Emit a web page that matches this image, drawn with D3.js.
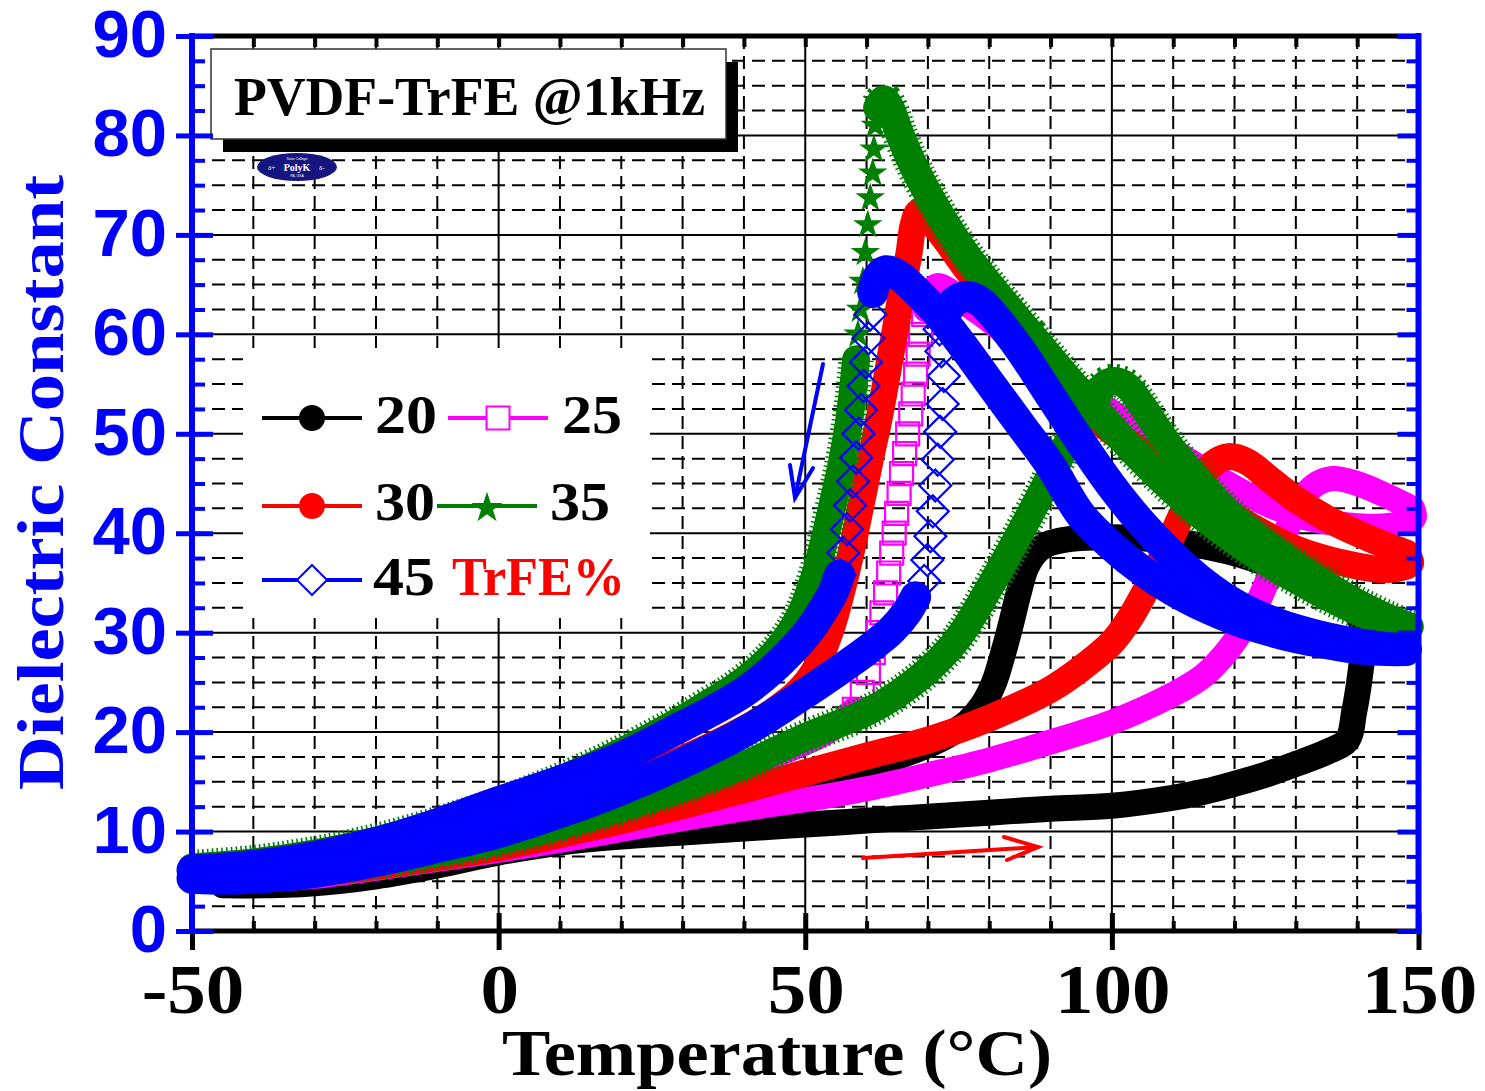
<!DOCTYPE html>
<html><head><meta charset="utf-8">
<script src="https://cdn.jsdelivr.net/npm/d3@7"></script>
<style>body{margin:0;background:#fff}svg{display:block}</style>
</head><body>
<svg id="chart" width="1485" height="1091"></svg>
<script>
// ---------------- DATA (temperature °C, dielectric constant) ----------------
const xTickValues = [-50, 0, 50, 100, 150];
const yTickValues = [0, 10, 20, 30, 40, 50, 60, 70, 80, 90];
const seriesNames = ["20", "25", "30", "35", "45"];

// 20 % TrFE (black, circles)
const trfe20Heat = [[-45,4.7],[-40,4.6],[-30,4.8],[-20,5.5],[-10,6.6],[0,7.9],[10,8.9],[20,9.5],[30,9.9],[40,10.3],[50,10.7],[60,11.1],[70,11.5],[80,11.9],[90,12.3],[100,12.6],[110,13.4],[115,14],[120,14.8],[125,15.7],[130,16.8],[135,18],[138.4,19.2],[139.5,22],[140.2,24.5],[140.7,26.8],[141.2,29]];
const trfe20Cool = [[141.2,29],[140.5,31.3],[138,33],[134,34.5],[130,35.8],[125,37],[120,38],[115,38.7],[110,39.2],[100,39.6],[93,39.4],[89.5,38.9],[87.5,38],[86,36.5],[84.8,34],[83.6,31],[82.3,28],[80.8,25],[79,22.8],[76.5,21],[73,19.6],[70,18.7],[65,17.5],[60,16.4],[50,14.5],[40,13],[30,11.7],[20,10.5],[10,9.3],[0,8.1],[-10,6.8],[-20,5.7],[-30,4.9],[-40,4.6],[-45,4.6]];

// 25 % TrFE (magenta, open squares)
const trfe25Heat = [[-50,5.3],[-45,5.1],[-40,5.1],[-30,5.5],[-20,6.3],[-10,7.2],[0,8.1],[10,9.1],[20,10.2],[30,11.3],[40,12.3],[50,13.2],[60,14.3],[70,15.7],[80,17.2],[90,19],[100,21],[110,23.8],[115,25.7],[119,28.3],[122,31],[124.5,34],[126.5,37],[128.5,40.3],[130.5,43],[133,44.8],[136,45.5],[140,45],[145,43.7],[149,42.5]];
const trfe25CoolHigh = [[149,42.5],[149.3,41.6],[147,41],[143,40.7],[139,40.8],[135,41.1],[130,41.8],[125,43],[120,44.6],[115,46.4],[110,48.3],[105,50.2],[100,52.2],[95,54.3],[90,56.5],[85,58.9],[80,61.4],[76,63.2],[73.5,64.4],[71.5,64.9],[70.3,64.1],[69.6,62.5]];
const trfe25CoolSteep = [[69.3,62],[68.8,60],[68.4,58],[68,56],[67.6,54],[67.2,52],[66.7,50],[66.2,48],[65.7,46],[65.3,44],[64.9,42],[64.5,40],[64.1,38],[63.6,36],[63.1,34],[62.5,32],[61.8,30],[61.1,28],[60.3,26],[59.3,24],[58,22.3]];
const trfe25CoolLow = [[58,22.3],[55,20.6],[52,19.5],[48,18.4],[40,16.5],[30,14.4],[20,12.4],[10,10.6],[0,9.1],[-10,7.9],[-20,6.9],[-30,6.1],[-40,5.6],[-50,5.3]];

// 30 % TrFE (red, circles)
const trfe30Heat = [[-50,5.6],[-40,5.4],[-30,5.8],[-20,6.5],[-10,7.4],[0,8.4],[10,9.7],[20,11.1],[30,12.6],[40,14.2],[50,15.9],[60,17.6],[70,19.2],[80,21.4],[90,24.3],[95,26.4],[100,29],[103,31.5],[106,34.8],[109,38.6],[111.5,42],[114,45],[116.5,47],[119,47.7],[122,47.2],[126,45.3],[130,43.4],[135,41.5],[140,40],[145,38.7],[148,38]];
const trfe30Cool = [[148,38],[148.7,37],[146,36.4],[143,36.4],[140,36.7],[135,37.4],[130,38.4],[125,39.9],[120,41.7],[115,43.8],[110,46],[105,48.2],[100,50.2],[96,52.2],[92,54.8],[88,57.8],[84,60.8],[80,63.8],[76,66.8],[72.5,69.8],[70,71.6],[68.5,72.3],[67.6,71],[67,68.5],[66.3,66],[65.5,63.5],[64.7,60.5],[63.8,57.5],[62.8,54],[61.8,50.8],[60.8,48],[59.8,45],[58.8,42],[57.8,39],[56.8,36.3],[55.8,33.8],[54.7,31.3],[53.3,28.8],[51.5,26.2],[49,24.2],[45,22.2],[40,20.3],[30,17.3],[20,14.8],[10,12.6],[0,10.5],[-10,8.9],[-20,7.6],[-30,6.7],[-40,6.1],[-50,5.8]];

// 35 % TrFE (green, stars)
const trfe35Heat = [[-50,6.1],[-40,5.8],[-30,6.2],[-20,6.9],[-10,7.9],[0,9.1],[10,10.6],[20,12.4],[30,14.4],[40,16.7],[50,19.5],[60,22],[65,23.8],[70,26.2],[75,29.5],[80,34.5],[85,40],[90,45.8],[94,50.5],[97,53.5],[99.5,55.2],[102,55],[105,52.8],[108,50],[112,46.8],[116,44],[120,41.5],[125,39],[130,36.8],[135,34.8],[140,33],[145,31.5],[148.5,30.6]];
const trfe35CoolHigh = [[148.5,30.6],[145,31],[140,32.2],[135,33.7],[130,35.4],[125,37.2],[120,39.3],[115,41.6],[110,44.3],[105,47.3],[100,50.6],[95,54],[90,57.6],[85,61.3],[80,65],[76,68.2],[72,72],[68,76.5],[65.5,80],[63.8,82.8],[62.8,83.6],[61.8,82.8]];
const trfe35CoolSteep = [[61.4,81],[61.2,78.6],[61,76.2],[60.6,73.7],[60.2,71],[59.8,68.2],[59.4,65.3],[59,62.5],[58.6,60]];
const trfe35CoolLow = [[58.3,57.5],[57.8,54.5],[57.2,51.5],[56.5,48.8],[55.8,46.5],[55,44.3],[54,41.6],[53,39],[52,36.6],[50.8,34.3],[49.5,32.2],[47.5,30],[45,28],[42,26.2],[38,24.3],[34,22.8],[30,21.3],[20,18],[10,15.2],[0,12.8],[-10,10.8],[-20,9.1],[-30,7.8],[-40,6.9],[-50,6.4]];

// 45 % TrFE (blue, open diamonds)
const trfe45HeatLow = [[-50,5.3],[-45,5.2],[-40,5.3],[-30,5.9],[-20,7],[-10,8.4],[0,9.9],[10,11.9],[20,14.2],[30,16.9],[40,20],[49,23.5],[55,26],[60,28.2],[64,30.2],[66.5,32],[68,33.6]];
const trfe45HeatSteep = [[69.4,35.2],[69.9,37.3],[70.4,39.7],[70.8,42.2],[71.2,44.8],[71.6,47.4],[72,50.2],[72.4,53],[72.6,55.8],[72.2,58.3],[71.9,60.5]];
const trfe45HeatHigh = [[72.8,62],[74.3,63.3],[76.2,63.8],[78.5,63.3],[81,61.7],[85,58.5],[90,53.8],[95,49.1],[100,44.7],[105,40.9],[110,37.7],[115,35],[120,32.9],[125,31.4],[130,30.3],[135,29.5],[140,28.9],[145,28.5],[148,28.4]];
const trfe45CoolHigh = [[148,28.2],[145,28.2],[140,28.4],[135,28.9],[130,29.5],[125,30.3],[120,31.3],[115,32.6],[110,34.2],[105,36.2],[100,38.7],[95,41.8],[90,46.8],[85,51],[80,55.2],[76,58.6],[72,61.8],[68.5,64.1],[65.5,65.8],[63.2,66.4],[61.8,65.7],[61,64.2]];
const trfe45CoolSteep = [[60.6,62],[60.3,59.6],[59.9,57.2],[59.5,54.8],[59.1,52.4],[58.7,50],[58.3,47.6],[57.8,45.2],[57.3,42.8],[56.8,40.4],[56.2,38],[55.6,35.8]];
const trfe45CoolLow = [[55.6,35.8],[54.5,34],[53,32.4],[51,30.5],[49,29],[45,26.5],[40,24],[35,22.2],[30,20.6],[20,17.5],[10,15.1],[0,13],[-10,10.8],[-20,8.9],[-30,7.5],[-40,6.6],[-50,6.1]];

// ---------------- CHART ----------------
const svg = d3.select('#chart');
const x = d3.scaleLinear().domain([-50, 150]).range([192, 1418.5]);
const y = d3.scaleLinear().domain([0, 90]).range([931, 36]);
const BLUE = '#0000ff', RED = '#ff0000', MAG = '#ff00ff', GREEN = '#008000', BLACK = '#000000';
const serif = '"Liberation Serif", "Times New Roman", serif';
const sans = '"Liberation Sans", Arial, sans-serif';

// grid
const grid = svg.append('g');
const hVals = d3.range(2.5, 90, 2.5);
grid.selectAll('line.h').data(hVals).join('line')
  .attr('x1', x(-50)).attr('x2', x(150)).attr('y1', d => y(d)).attr('y2', d => y(d))
  .attr('stroke', '#000').attr('stroke-width', 2)
  .attr('stroke-dasharray', d => (d % 10 === 0 ? null : '13,7'));
const vVals = d3.range(-40, 150, 10);
grid.selectAll('line.v').data(vVals).join('line')
  .attr('y1', y(90)).attr('y2', y(0)).attr('x1', d => x(d)).attr('x2', d => x(d))
  .attr('stroke', '#000').attr('stroke-width', 2)
  .attr('stroke-dasharray', d => (d % 50 === 0 ? null : '13,7'));

// legend background & title box (cover the grid)
svg.append('rect').attr('x', 243).attr('y', 348).attr('width', 407).attr('height', 270).attr('fill', '#fff');
svg.append('rect').attr('x', 223).attr('y', 62).attr('width', 515).attr('height', 90).attr('fill', '#000');
svg.append('rect').attr('x', 211).attr('y', 49).attr('width', 515).attr('height', 90).attr('fill', '#fff')
  .attr('stroke', '#333').attr('stroke-width', 1.5);
svg.append('text').attr('x', 234).attr('y', 115).text('PVDF-TrFE @1kHz')
  .attr('font-family', serif).attr('font-weight', 'bold').attr('font-size', 55)
  .attr('textLength', 471).attr('lengthAdjust', 'spacingAndGlyphs');

// logo
const logo = svg.append('g').attr('transform', 'translate(297,167)');
logo.append('ellipse').attr('rx', 40).attr('ry', 14).attr('fill', '#151580');
logo.append('text').attr('y', 4).attr('text-anchor', 'middle').attr('fill', '#fff')
  .attr('font-family', serif).attr('font-weight', 'bold').attr('font-size', 10).text('PolyK');
logo.append('text').attr('y', -7).attr('text-anchor', 'middle').attr('fill', '#fff')
  .attr('font-family', sans).attr('font-size', 3.5).text('State College');
logo.append('text').attr('y', 10).attr('text-anchor', 'middle').attr('fill', '#fff')
  .attr('font-family', sans).attr('font-size', 3.5).text('PA, USA');
logo.append('text').attr('x', -29).attr('y', 3).attr('fill', '#fff').attr('font-family', serif).attr('font-size', 7).text('δ+');
logo.append('text').attr('x', 22).attr('y', 3).attr('fill', '#fff').attr('font-family', serif).attr('font-size', 7).text('δ-');

// curves
const curveG = svg.append('g');
const lineGen = d3.line().x(d => x(d[0])).y(d => y(d[1])).curve(d3.curveCatmullRom.alpha(0.5));
function band(data, color, w, teeth) {
  if (teeth) {
    curveG.append('path').datum(data).attr('d', lineGen).attr('fill', 'none')
      .attr('stroke', color).attr('stroke-width', w + 7).attr('stroke-dasharray', '1.6,3.2');
  }
  curveG.append('path').datum(data).attr('d', lineGen).attr('fill', 'none')
    .attr('stroke', color).attr('stroke-width', w)
    .attr('stroke-linecap', 'round').attr('stroke-linejoin', 'round');
}
function markers(data, symbolType, size, color, filled, rot) {
  curveG.selectAll(null).data(data).join('path')
    .attr('transform', d => `translate(${x(d[0])},${y(d[1])}) rotate(${rot || 0})`)
    .attr('d', d3.symbol(symbolType, size)())
    .attr('fill', filled ? color : 'none')
    .attr('stroke', color).attr('stroke-width', filled ? 0 : 2.2);
}
band(trfe20Heat, BLACK, 26);
band(trfe20Cool, BLACK, 26);
band(trfe25Heat, MAG, 25);
band(trfe25CoolHigh, MAG, 25);
band(trfe25CoolLow, MAG, 25);
markers(trfe25CoolSteep, d3.symbolSquare, 23 * 23, MAG, false, 0);
band(trfe30Heat, RED, 27);
band(trfe30Cool, RED, 27);
band(trfe35Heat, GREEN, 28, true);
band(trfe35CoolHigh, GREEN, 29, true);
band(trfe35CoolLow, GREEN, 28, true);
markers(trfe35CoolSteep, d3.symbolStar, 270, GREEN, true, 0);
band(trfe45HeatLow, BLUE, 31);
band(trfe45HeatHigh, BLUE, 31);
band(trfe45CoolHigh, BLUE, 31);
band(trfe45CoolLow, BLUE, 31);
markers(trfe45HeatSteep, d3.symbolSquare, 510, BLUE, false, 45);
markers(trfe45CoolSteep, d3.symbolSquare, 510, BLUE, false, 45);

// arrows
function arrow(x1, y1, x2, y2, h1, h2, color) {
  const a = svg.append('g').attr('stroke', color).attr('stroke-width', 4).attr('fill', 'none').attr('stroke-linecap', 'round');
  a.append('line').attr('x1', x1).attr('y1', y1).attr('x2', x2).attr('y2', y2);
  a.append('polyline').attr('points', `${h1[0]},${h1[1]} ${x2},${y2} ${h2[0]},${h2[1]}`);
}
arrow(823, 364, 795, 498, [790, 465], [813, 468], BLUE);
arrow(863, 858, 1038, 847, [1004, 837], [1007, 860], RED);

// legend
const legendRows = [
  {name: seriesNames[0], color: BLACK, sym: 'circle', lx: 262, ly: 418, tx: 375, tw: 62, ty: 433},
  {name: seriesNames[1], color: MAG, sym: 'square', lx: 448, ly: 418, tx: 562, tw: 60, ty: 433},
  {name: seriesNames[2], color: RED, sym: 'circle', lx: 262, ly: 506, tx: 375, tw: 60, ty: 520},
  {name: seriesNames[3], color: GREEN, sym: 'star', lx: 437, ly: 506, tx: 550, tw: 60, ty: 520},
  {name: seriesNames[4], color: BLUE, sym: 'diamond', lx: 262, ly: 580, tx: 373, tw: 62, ty: 595}
];
const lg = svg.append('g');
legendRows.forEach(r => {
  lg.append('line').attr('x1', r.lx).attr('x2', r.lx + 100).attr('y1', r.ly).attr('y2', r.ly)
    .attr('stroke', r.color).attr('stroke-width', 4);
  const cx = r.lx + 50;
  if (r.sym === 'circle') lg.append('circle').attr('cx', cx).attr('cy', r.ly).attr('r', 13).attr('fill', r.color);
  if (r.sym === 'square') lg.append('rect').attr('x', cx - 11.5).attr('y', r.ly - 11.5).attr('width', 23).attr('height', 23).attr('fill', '#fff').attr('stroke', r.color).attr('stroke-width', 2);
  if (r.sym === 'star') lg.append('path').attr('transform', `translate(${cx},${r.ly + 2})`).attr('d', d3.symbol(d3.symbolStar, 300)()).attr('fill', r.color);
  if (r.sym === 'diamond') lg.append('path').attr('transform', `translate(${cx},${r.ly}) rotate(45)`).attr('d', d3.symbol(d3.symbolSquare, 450)()).attr('fill', '#fff').attr('stroke', r.color).attr('stroke-width', 2);
  lg.append('text').attr('x', r.tx).attr('y', r.ty).text(r.name)
    .attr('font-family', serif).attr('font-weight', 'bold').attr('font-size', 54)
    .attr('textLength', r.tw).attr('lengthAdjust', 'spacingAndGlyphs');
});
lg.append('text').attr('x', 452).attr('y', 595).text('TrFE%').attr('fill', RED)
  .attr('font-family', serif).attr('font-weight', 'bold').attr('font-size', 54)
  .attr('textLength', 173).attr('lengthAdjust', 'spacingAndGlyphs');

// ---------------- AXES ----------------
const ax = svg.append('g');
ax.append('line').attr('x1', x(-50)).attr('x2', x(150)).attr('y1', y(90)).attr('y2', y(90)).attr('stroke', '#000').attr('stroke-width', 5);
ax.append('line').attr('x1', x(-50)).attr('x2', x(150)).attr('y1', y(0)).attr('y2', y(0)).attr('stroke', '#000').attr('stroke-width', 5);
function styleTicks(g, color, w) {
  g.select('.domain').remove();
  g.selectAll('.tick line').attr('stroke', color).attr('stroke-width', w);
  g.selectAll('.tick text').remove();
}
ax.append('g').attr('transform', `translate(0,${y(0)})`)
  .call(d3.axisBottom(x).tickValues(d3.range(-50, 151, 10)).tickSize(-10)).call(g => styleTicks(g, '#000', 4));
ax.append('g').attr('transform', `translate(0,${y(0)})`)
  .call(d3.axisBottom(x).tickValues(xTickValues).tickSize(19)).call(g => styleTicks(g, '#000', 5));
ax.append('g').attr('transform', `translate(0,${y(0)})`)
  .call(d3.axisBottom(x).tickValues(xTickValues).tickSize(-18)).call(g => styleTicks(g, '#000', 5));
ax.append('g').attr('transform', `translate(0,${y(90)})`)
  .call(d3.axisTop(x).tickValues(d3.range(-40, 150, 10)).tickSize(-11)).call(g => styleTicks(g, '#000', 4));

ax.append('line').attr('x1', x(-50)).attr('x2', x(-50)).attr('y1', y(90) - 3).attr('y2', y(0) + 3).attr('stroke', BLUE).attr('stroke-width', 6);
ax.append('g').attr('transform', `translate(${x(-50)},0)`)
  .call(d3.axisLeft(y).tickValues(d3.range(0, 90.1, 2.5)).tickSize(-13)).call(g => styleTicks(g, BLUE, 4));
ax.append('g').attr('transform', `translate(${x(-50)},0)`)
  .call(d3.axisLeft(y).tickValues(yTickValues).tickSize(16)).call(g => styleTicks(g, BLUE, 5));
ax.append('g').attr('transform', `translate(${x(-50)},0)`)
  .call(d3.axisLeft(y).tickValues(yTickValues).tickSize(-21)).call(g => styleTicks(g, BLUE, 5));
ax.append('line').attr('x1', x(150)).attr('x2', x(150)).attr('y1', y(90) - 3).attr('y2', y(0) + 3).attr('stroke', BLUE).attr('stroke-width', 6);
ax.append('g').attr('transform', `translate(${x(150)},0)`)
  .call(d3.axisRight(y).tickValues(d3.range(0, 90.1, 2.5)).tickSize(-12)).call(g => styleTicks(g, BLUE, 4));
ax.append('g').attr('transform', `translate(${x(150)},0)`)
  .call(d3.axisRight(y).tickValues(yTickValues).tickSize(-21)).call(g => styleTicks(g, BLUE, 5));

ax.selectAll('text.yl').data(yTickValues).join('text')
  .attr('x', 167).attr('y', d => y(d) + 21).attr('text-anchor', 'end')
  .attr('fill', BLUE).attr('font-family', sans).attr('font-weight', 'bold').attr('font-size', 67)
  .text(d => String(d));
ax.selectAll('text.xl').data(xTickValues).join('text')
  .attr('transform', d => `translate(${x(d) + 1},1013) scale(1.1,1)`).attr('text-anchor', 'middle')
  .attr('fill', '#000').attr('font-family', serif).attr('font-weight', 'bold').attr('font-size', 70)
  .text(d => String(d));

svg.append('text').attr('x', 502).attr('y', 1075).text('Temperature (°C)')
  .attr('font-family', serif).attr('font-weight', 'bold').attr('font-size', 65)
  .attr('textLength', 550).attr('lengthAdjust', 'spacingAndGlyphs');
svg.append('text').attr('transform', 'translate(63,790) rotate(-90)').text('Dielectric Constant')
  .attr('fill', BLUE).attr('font-family', serif).attr('font-weight', 'bold').attr('font-size', 66)
  .attr('textLength', 615).attr('lengthAdjust', 'spacingAndGlyphs');
</script>
</body></html>
